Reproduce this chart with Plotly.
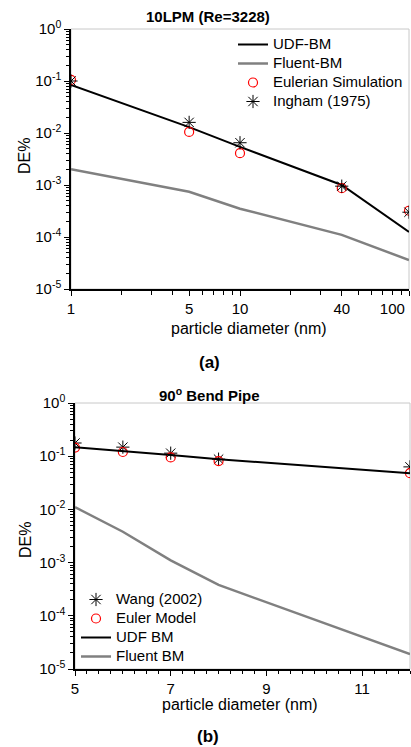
import plotly.graph_objects as go

# ---------- data: (a) 10LPM (Re=3228) ----------
a_diam = [1, 5, 10, 40, 100]
a_udf = [0.084, 0.013, 0.0054, 0.001, 0.000125]
a_fluent = [0.002, 0.00074, 0.00035, 0.00011, 0.000036]
a_euler = [0.105, 0.0105, 0.0041, 0.00087, 0.00032]
a_ingham = [0.10, 0.016, 0.0065, 0.00095, 0.00030]
a_xticks = [1, 5, 10, 40, 100]

# ---------- data: (b) 90° Bend Pipe ----------
b_diam = [5, 6, 7, 8, 12]
b_udf = [0.148, 0.126, 0.105, 0.088, 0.048]
b_fluent = [0.011, 0.0038, 0.0011, 0.00038, 0.000019]
b_euler = [0.145, 0.12, 0.095, 0.081, 0.048]
b_wang = [0.177, 0.148, 0.114, 0.088, 0.063]
b_xticks = [5, 7, 9, 11]

y_exps = [0, -1, -2, -3, -4, -5]

W, H = 411, 747
FONT = "Liberation Sans, Arial, sans-serif"


def px(x):
    return x / W


def py(y):
    return 1 - y / H


def leg(name):
    return "<span style='font-size:15px'>%s</span>" % name


fig = go.Figure()

# top chart traces
fig.add_trace(go.Scatter(x=a_diam, y=a_udf, mode="lines", name=leg("UDF-BM"),
                         line=dict(color="black", width=2), xaxis="x", yaxis="y", legend="legend"))
fig.add_trace(go.Scatter(x=a_diam, y=a_fluent, mode="lines", name=leg("Fluent-BM"),
                         line=dict(color="#808080", width=2.5), xaxis="x", yaxis="y", legend="legend"))
fig.add_trace(go.Scatter(x=a_diam, y=a_euler, mode="markers", name=leg("Eulerian Simulation"),
                         marker=dict(symbol="circle-open", color="red", size=9, line=dict(width=1.2)),
                         xaxis="x", yaxis="y", legend="legend"))
fig.add_trace(go.Scatter(x=a_diam, y=a_ingham, mode="markers", name=leg("Ingham (1975)"),
                         marker=dict(symbol="asterisk-open", color="black", size=11, line=dict(width=1, color="black")),
                         xaxis="x", yaxis="y", legend="legend"))

# bottom chart traces
fig.add_trace(go.Scatter(x=b_diam, y=b_wang, mode="markers", name=leg("Wang (2002)"),
                         marker=dict(symbol="asterisk-open", color="black", size=11, line=dict(width=1, color="black")),
                         xaxis="x2", yaxis="y2", legend="legend2"))
fig.add_trace(go.Scatter(x=b_diam, y=b_euler, mode="markers", name=leg("Euler Model"),
                         marker=dict(symbol="circle-open", color="red", size=9, line=dict(width=1.2)),
                         xaxis="x2", yaxis="y2", legend="legend2"))
fig.add_trace(go.Scatter(x=b_diam, y=b_udf, mode="lines", name=leg("UDF BM"),
                         line=dict(color="black", width=2), xaxis="x2", yaxis="y2", legend="legend2"))
fig.add_trace(go.Scatter(x=b_diam, y=b_fluent, mode="lines", name=leg("Fluent BM"),
                         line=dict(color="#808080", width=2.5), xaxis="x2", yaxis="y2", legend="legend2"))

ytickvals = [10.0 ** e for e in y_exps]
yticktext = ["10<sup>%d</sup>" % e for e in y_exps]
yminor = [m * 10.0 ** e for e in range(-5, 0) for m in range(2, 10)]
xminor_a = [m * 10.0 ** e for e in range(0, 2) for m in range(2, 10) if m * 10.0 ** e not in a_xticks]
# last label nudged left (as in the original, where it sits against the frame)
a_xticktext = [str(v) for v in a_xticks[:-1]] + [str(a_xticks[-1]) + "\u00a0" * 8]

tickfont = dict(family=FONT, size=15, color="black")
common_axis = dict(showline=True, linecolor="black", linewidth=1.5, ticks="outside",
                   ticklen=5, tickwidth=1, tickcolor="black", showgrid=False, zeroline=False,
                   tickfont=tickfont, automargin=False, ticklabeloverflow="allow")

top_y0, top_y1 = 29, 289
bot_y0, bot_y1 = 403, 669


def ann(text, x, y, size, angle=0):
    return dict(text=text, x=px(x), y=py(y), xref="paper", yref="paper", xanchor="center",
                yanchor="middle", textangle=angle, showarrow=False,
                font=dict(family=FONT, size=size, color="black"))


fig.update_layout(
    width=W, height=H,
    margin=dict(l=0, r=0, t=0, b=0, autoexpand=False),
    paper_bgcolor="white", plot_bgcolor="white",
    font=dict(family=FONT, color="black"),
    xaxis=dict(type="log", domain=[px(71), px(409)], range=[0, 2], anchor="y",
               tickmode="array", tickvals=a_xticks, ticktext=a_xticktext,
               minor=dict(tickmode="array", tickvals=xminor_a, ticks="outside", ticklen=4,
                          tickcolor="black", showgrid=False),
               **common_axis),
    yaxis=dict(type="log", domain=[py(top_y1), py(top_y0)], range=[-5, 0], anchor="x",
               tickmode="array", tickvals=ytickvals, ticktext=yticktext,
               minor=dict(tickmode="array", tickvals=yminor, ticks="outside", ticklen=3,
                          tickcolor="black", showgrid=False),
               **common_axis),
    xaxis2=dict(type="linear", domain=[px(75), px(410)], range=[5, 12], anchor="y2",
                tickmode="array", tickvals=b_xticks, ticktext=[str(v) for v in b_xticks],
                minor=dict(dtick=0.25, ticks="outside", ticklen=3, tickcolor="black", showgrid=False),
                **common_axis),
    yaxis2=dict(type="log", domain=[py(bot_y1), py(bot_y0)], range=[-5, 0], anchor="x2",
                tickmode="array", tickvals=ytickvals, ticktext=yticktext,
                minor=dict(tickmode="array", tickvals=yminor, ticks="outside", ticklen=3,
                           tickcolor="black", showgrid=False),
                **common_axis),
    legend=dict(x=px(233), y=py(30), xanchor="left", yanchor="top",
                font=dict(family=FONT, size=12, color="black"),
                bgcolor="rgba(0,0,0,0)", tracegroupgap=0, itemwidth=30),
    legend2=dict(x=px(76), y=py(585), xanchor="left", yanchor="top",
                 font=dict(family=FONT, size=12, color="black"),
                 bgcolor="rgba(0,0,0,0)", tracegroupgap=0, itemwidth=30),
    shapes=[
        dict(type="rect", xref="x domain", yref="y domain", x0=0, x1=1, y0=0, y1=1,
             line=dict(color="#c8c8c8", width=1), layer="below"),
        dict(type="rect", xref="x2 domain", yref="y2 domain", x0=0, x1=1, y0=0, y1=1,
             line=dict(color="#c8c8c8", width=1), layer="below"),
    ],
    annotations=[
        ann("<b>10LPM (Re=3228)</b>", 208, 17, 15),
        ann("<b>90<sup>o</sup> Bend Pipe</b>", 209, 394, 15),
        ann("DE%", 25, 156, 16, -90),
        ann("DE%", 25, 540, 16, -90),
        ann("particle diameter (nm)", 249, 328, 16),
        ann("particle diameter (nm)", 240, 704, 16),
        ann("<b>(a)</b>", 209, 362, 17),
        ann("<b>(b)</b>", 208, 736, 17),
    ],
)

fig.write_html("out.html", config={"displayModeBar": False},
               post_script="document.body.style.margin='0';document.body.style.overflow='hidden';")
